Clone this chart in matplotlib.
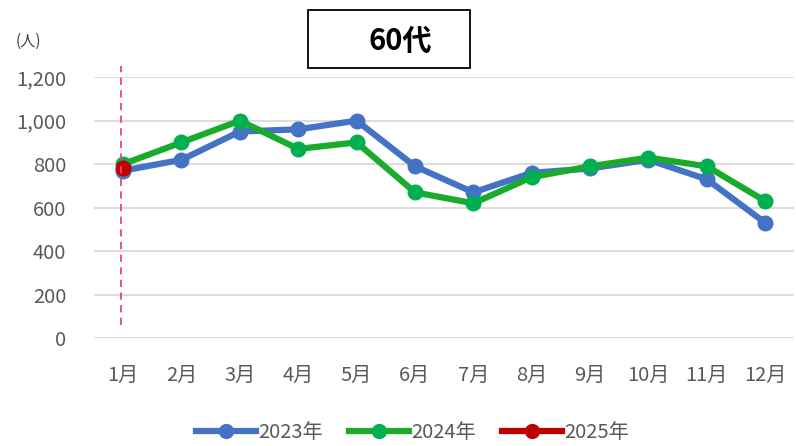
import matplotlib.pyplot as plt
from matplotlib.patches import Rectangle

plt.rcParams['font.family'] = ['Noto Sans CJK JP', 'DejaVu Sans']

months = ["1月", "2月", "3月", "4月", "5月", "6月", "7月", "8月", "9月", "10月", "11月", "12月"]
y2023 = [770, 820, 950, 960, 1000, 790, 670, 760, 780, 820, 730, 530]
y2024 = [800, 900, 1000, 870, 900, 670, 620, 740, 790, 830, 790, 630]
y2025 = [780]
yticks = [0, 200, 400, 600, 800, 1000, 1200]
title = "60代"

fig = plt.figure(figsize=(7.96, 4.46), dpi=100)
ax = fig.add_axes([0.118, 0.242, 0.880, 0.585])

x = list(range(len(months)))
ax.plot(x, y2023, color="#4472C4", lw=4.5, marker="o", ms=10.5,
        mfc="#4472C4", mec="#4472C4", label="2023年", zorder=3, clip_on=False)
ax.plot(x, y2024, color="#1AAB2A", lw=4.5, marker="o", ms=10.5,
        mfc="#00B050", mec="#00B050", label="2024年", zorder=4, clip_on=False)
ax.plot(x[:len(y2025)], y2025, color="#C00000", lw=4.5, marker="o", ms=10.5,
        mfc="#C00000", mec="#C00000", label="2025年", zorder=5, clip_on=False)

# dashed marker line at current month
ax.plot([-0.03, -0.03], [60, 1250], color="#E8457A", lw=1.3, ls=(0, (4, 3)),
        clip_on=False, zorder=6)

ax.set_xlim(-0.5, 11.5)
ax.set_ylim(0, 1200)
ax.set_yticks(yticks)
ax.set_yticklabels([f"{v:,}" for v in yticks])
ax.set_xticks(x)
ax.set_xticklabels(months)
ax.tick_params(axis='both', length=0, labelsize=14.5, colors="#595959")
ax.tick_params(axis='y', pad=20)
ax.tick_params(axis='x', pad=19)
ax.grid(axis='y', color="#D9D9D9", lw=1.3)
ax.set_axisbelow(True)
for s in ax.spines.values():
    s.set_visible(False)

# unit label
fig.text(0.020, 0.908, "(人)", fontsize=11, color="#404040", va='center')

# title box
fig.patches.append(Rectangle((0.387, 0.848), 0.203, 0.130, transform=fig.transFigure,
                             facecolor="white", edgecolor="black", lw=1.3))
fig.text(0.503, 0.908, title, fontsize=21, fontweight='bold', ha='center', va='center')

fig.legend(loc='center', bbox_to_anchor=(0.518, 0.031), ncol=3, frameon=False,
           fontsize=14.5, handlelength=3.0, handletextpad=0.1, columnspacing=1.3,
           labelcolor="#595959", markerscale=0.95)

fig.savefig("out.png", dpi=100)
